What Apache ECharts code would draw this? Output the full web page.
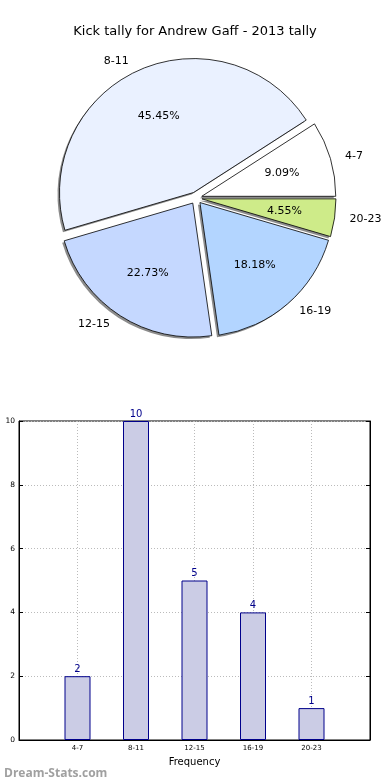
<!DOCTYPE html>
<html>
<head>
<meta charset="utf-8">
<script src="https://cdn.jsdelivr.net/npm/echarts@6/dist/echarts.min.js"></script>
<style>
html,body{margin:0;padding:0;background:#fff;}
#c{width:390px;height:780px;}
</style>
</head>
<body>
<div id="c"></div>
<script>
var categories = ['4-7', '8-11', '12-15', '16-19', '20-23'];
var counts = [2, 10, 5, 4, 1];
var sliceColors = ['#ffffff', '#eaf1ff', '#c5d8ff', '#b3d5ff', '#ceeb89'];
var yTicks = [0, 2, 4, 6, 8, 10];
var titleText = 'Kick tally for Andrew Gaff - 2013 tally';

var FONT = 'DejaVu Sans';
var chart = echarts.init(document.getElementById('c'), null, {renderer: 'canvas'});

function pieItems(withColor) {
  return categories.map(function (c, i) {
    var d = {name: c, value: counts[i], selected: true};
    if (withColor) d.itemStyle = {color: sliceColors[i]};
    return d;
  });
}
var xCats = [''].concat(categories).concat(['']);
var barData = [null].concat(counts).concat([null]);

var PIE_C = [196, 198], PIE_R = 134;

var option = {
  animation: false,
  title: [
    {text: titleText, left: 'center', top: 20,
     textStyle: {fontFamily: FONT, fontSize: 13, fontWeight: 'normal', color: '#000'}},
    {text: 'Dream-Stats.com', left: -1, top: 763,
     textStyle: {fontFamily: 'Open Sans', fontSize: 12, fontWeight: 'bold', color: '#a0a0a0'}}
  ],
  grid: {left: 19, right: 20, top: 421, bottom: 40, show: true, borderColor: '#000', borderWidth: 1},
  xAxis: {
    type: 'category', data: xCats, boundaryGap: false,
    name: 'Frequency', nameLocation: 'middle', nameGap: 17,
    nameTextStyle: {fontFamily: FONT, fontSize: 10, color: '#000'},
    axisLine: {show: true, lineStyle: {color: '#000'}},
    axisTick: {show: false},
    axisLabel: {fontFamily: FONT, fontSize: 7, color: '#000', margin: 5, interval: 0},
    splitLine: {show: true, lineStyle: {color: '#bbbbbb', type: [1, 2], width: 1}}
  },
  yAxis: [
    {type: 'value', min: 0, max: 10, interval: 2,
     axisLine: {show: true, lineStyle: {color: '#000'}},
     axisTick: {show: true, inside: true, length: 4, lineStyle: {color: '#000'}},
     axisLabel: {fontFamily: FONT, fontSize: 7.5, color: '#000', margin: 4,
       formatter: function (v) { return yTicks.indexOf(v) >= 0 ? String(v) : ''; }},
     splitLine: {show: true, lineStyle: {color: '#bbbbbb', type: [1, 2], width: 1}}},
    {type: 'value', min: 0, max: 10, interval: 2, position: 'right',
     axisLine: {show: true, lineStyle: {color: '#000'}},
     axisTick: {show: true, inside: true, length: 4, lineStyle: {color: '#000'}},
     axisLabel: {show: false}, splitLine: {show: false}}
  ],
  series: [
    {
      // shadow layer
      type: 'pie', center: [PIE_C[0] - 2, PIE_C[1] + 2], radius: [0, PIE_R], z: 1,
      startAngle: 0, clockwise: false,
      selectedMode: 'multiple', selectedOffset: 6,
      avoidLabelOverlap: false, silent: true,
      emphasis: {disabled: true},
      itemStyle: {color: '#8c8c8c', borderWidth: 0},
      label: {show: false}, labelLine: {show: false},
      data: pieItems(false)
    },
    {
      type: 'pie', center: PIE_C, radius: [0, PIE_R], z: 2,
      startAngle: 0, clockwise: false,
      selectedMode: 'multiple', selectedOffset: 6,
      avoidLabelOverlap: false, silent: true,
      emphasis: {disabled: true},
      itemStyle: {borderColor: '#000', borderWidth: 0.8},
      label: {show: true, position: 'outside', fontFamily: FONT, fontSize: 11, color: '#000',
        formatter: '{b}'},
      labelLine: {show: false, length: 10, length2: 0},
      data: pieItems(true)
    },
    {
      type: 'pie', center: PIE_C, radius: [27, PIE_R], z: 3,
      startAngle: 0, clockwise: false,
      selectedMode: 'multiple', selectedOffset: 6,
      avoidLabelOverlap: false, silent: true,
      emphasis: {disabled: true},
      itemStyle: {color: 'rgba(0,0,0,0)', borderWidth: 0},
      label: {show: true, position: 'inner', fontFamily: FONT, fontSize: 11, color: '#000',
        formatter: function (p) { return p.percent.toFixed(2) + '%'; }},
      labelLine: {show: false},
      data: pieItems(false)
    },
    {
      type: 'bar', data: barData, barWidth: 26, silent: true,
      itemStyle: {color: '#cbcce5', borderColor: '#00008b', borderWidth: 1},
      label: {show: true, position: 'top', distance: 2, fontFamily: FONT, fontSize: 10, color: '#00008b'}
    }
  ]
};
chart.setOption(option);
</script>
</body>
</html>
